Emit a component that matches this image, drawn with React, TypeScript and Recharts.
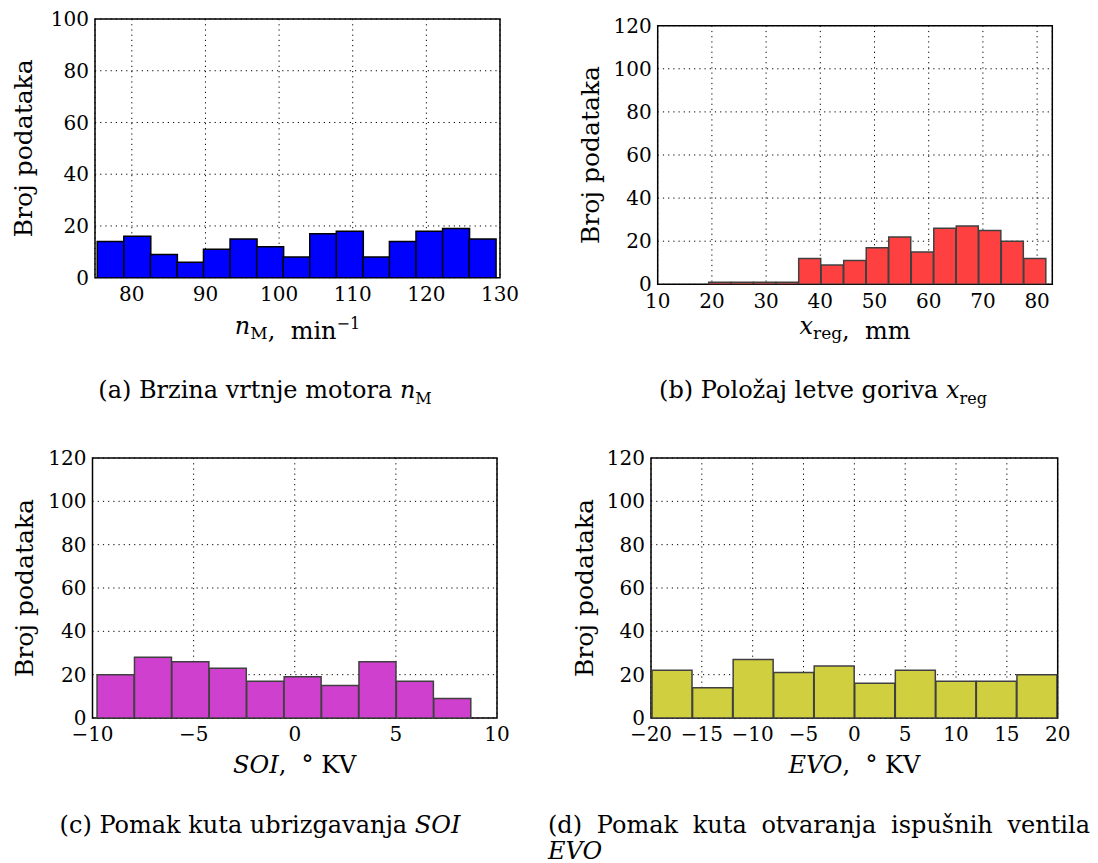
import React from 'react'
import { BarChart, Bar, XAxis, YAxis, CartesianGrid, ReferenceArea, Label } from 'recharts'

const SERIF = 'DejaVu Serif, Liberation Serif, serif'

// (a) engine speed
const speedBins = [77.1, 80.71, 84.32, 87.93, 91.53, 95.14, 98.75, 102.35, 105.96, 109.57, 113.18, 116.78, 120.39, 124.0, 127.6]
const speedCounts = [14, 16, 9, 6, 11, 15, 12, 8, 17, 18, 8, 14, 18, 19, 15]
const speedTicks = [80, 90, 100, 110, 120, 130]

// (b) fuel rack position
const rackBins = [21.48, 25.63, 29.78, 33.94, 38.09, 42.24, 46.4, 50.55, 54.7, 58.86, 63.01, 67.16, 71.32, 75.47, 79.62]
const rackCounts = [1, 1, 1, 1, 12, 9, 11, 17, 22, 15, 26, 27, 25, 20, 12]
const rackTicks = [10, 20, 30, 40, 50, 60, 70, 80]

// (c) start of injection offset
const soiBins = [-8.85, -7.0, -5.15, -3.3, -1.45, 0.4, 2.25, 4.1, 5.95, 7.8]
const soiCounts = [20, 28, 26, 23, 17, 19, 15, 26, 17, 9]
const soiTicks = [-10, -5, 0, 5, 10]

// (d) exhaust valve opening offset
const evoBins = [-17.91, -13.92, -9.93, -5.94, -1.96, 2.03, 6.02, 10.01, 13.99, 17.98]
const evoCounts = [22, 14, 27, 21, 24, 16, 22, 17, 17, 20]
const evoTicks = [-20, -15, -10, -5, 0, 5, 10, 15, 20]

const countTicks100 = [0, 20, 40, 60, 80, 100]
const countTicks120 = [0, 20, 40, 60, 80, 100, 120]

const fmt = (v: number) => (v < 0 ? '\u2212' + Math.abs(v) : String(v))

type Rect = { x: number; y: number; w: number; h: number }
type Plot = { left: number; top: number; right: number; bottom: number }

function Histogram(props: {
  box: Rect
  plot: Plot
  bins: number[]
  counts: number[]
  xDomain: [number, number]
  xTicks: number[]
  yMax: number
  yTicks: number[]
  fill: string
  edge: string
  xLabel: React.ReactNode
  xLabelY: number
  yLabelX: number
}) {
  const { box, plot, bins, counts, xDomain, xTicks, yMax, yTicks, fill, edge, xLabel, xLabelY, yLabelX } = props
  const data = bins.map((x, i) => ({ x, count: counts[i] }))
  const margin = { top: plot.top - box.y, right: box.x + box.w - plot.right, left: 0, bottom: 0 }
  const cx = (plot.left + plot.right) / 2 - box.x
  const cy = (plot.top + plot.bottom) / 2 - box.y
  const ly = yLabelX - box.x

  return (
    <div style={{ position: 'absolute', left: box.x, top: box.y }}>
      <BarChart width={box.w} height={box.h} data={data} margin={margin} barCategoryGap={0} barGap={0}>
        <CartesianGrid stroke="#000" strokeWidth={1} strokeDasharray="1.2 4" />
        <XAxis
          type="number"
          dataKey="x"
          domain={xDomain}
          ticks={xTicks}
          allowDataOverflow
          interval={0}
          height={box.y + box.h - plot.bottom}
          axisLine={false}
          tickLine={false}
          tickSize={0}
          tickMargin={9}
          tickFormatter={fmt}
          tick={{ fill: '#000', fontSize: 20, fontFamily: SERIF }}
        >
          <Label
            content={() => (
              <text x={cx} y={xLabelY - box.y} textAnchor="middle" fontSize={24} fontFamily={SERIF} fill="#000">
                {xLabel}
              </text>
            )}
          />
        </XAxis>
        <YAxis
          type="number"
          domain={[0, yMax]}
          ticks={yTicks}
          allowDataOverflow
          interval={0}
          width={plot.left - box.x}
          axisLine={false}
          tickLine={false}
          tickSize={0}
          tickMargin={6}
          tick={{ fill: '#000', fontSize: 20, fontFamily: SERIF }}
        >
          <Label
            content={() => (
              <text
                x={ly}
                y={cy}
                transform={`rotate(-90, ${ly}, ${cy})`}
                textAnchor="middle"
                dominantBaseline="central"
                fontSize={25}
                fontFamily={SERIF}
                fill="#000"
              >
                Broj podataka
              </text>
            )}
          />
        </YAxis>
        <Bar dataKey="count" fill={fill} stroke={edge} strokeWidth={1.5} isAnimationActive={false} />
        <ReferenceArea x1={xDomain[0]} x2={xDomain[1]} y1={0} y2={yMax} fill="none" stroke="#000" strokeWidth={1.5} />
      </BarChart>
    </div>
  )
}

const sub = (t: string) => (
  <>
    <tspan fontSize={17} dy={5}>{t}</tspan>
    <tspan dy={-5}>{''}</tspan>
  </>
)

const captionStyle: React.CSSProperties = {
  position: 'absolute',
  fontFamily: SERIF,
  fontSize: 24,
  lineHeight: '26px',
  color: '#000',
  whiteSpace: 'nowrap',
}

function Caption({ cx, top, children }: { cx: number; top: number; children: React.ReactNode }) {
  return <div style={{ ...captionStyle, left: cx - 300, width: 600, top, textAlign: 'center' }}>{children}</div>
}

export default function App() {
  return (
    <div style={{ position: 'absolute', left: 0, top: 0, width: 1098, height: 863, background: '#fff' }}>
      <Histogram
        box={{ x: 0, y: 0, w: 540, h: 350 }}
        plot={{ left: 95, top: 19, right: 500, bottom: 277.7 }}
        bins={speedBins}
        counts={speedCounts}
        xDomain={[75, 130]}
        xTicks={speedTicks}
        yMax={100}
        yTicks={countTicks100}
        fill="#0000ff"
        edge="#000000"
        xLabelY={334}
        yLabelX={24}
        xLabel={
          <>
            <tspan fontStyle="italic">n</tspan>
            {sub('M')}
            <tspan>{',\u00a0\u00a0min'}</tspan>
            <tspan fontSize={16} dy={-10}>{'\u22121'}</tspan>
          </>
        }
      />
      <Histogram
        box={{ x: 560, y: 0, w: 538, h: 350 }}
        plot={{ left: 657.7, top: 25.7, right: 1052.3, bottom: 284.3 }}
        bins={rackBins}
        counts={rackCounts}
        xDomain={[10, 82.8]}
        xTicks={rackTicks}
        yMax={120}
        yTicks={countTicks120}
        fill="#ff4040"
        edge="#404040"
        xLabelY={334}
        yLabelX={590}
        xLabel={
          <>
            <tspan fontStyle="italic">x</tspan>
            {sub('reg')}
            <tspan>{',\u00a0\u00a0mm'}</tspan>
          </>
        }
      />
      <Histogram
        box={{ x: 0, y: 430, w: 540, h: 360 }}
        plot={{ left: 92.5, top: 458, right: 497, bottom: 718 }}
        bins={soiBins}
        counts={soiCounts}
        xDomain={[-10, 10]}
        xTicks={soiTicks}
        yMax={120}
        yTicks={countTicks120}
        fill="#cf40cf"
        edge="#404040"
        xLabelY={773}
        yLabelX={24}
        xLabel={
          <>
            <tspan fontStyle="italic">SOI</tspan>
            <tspan>{',\u00a0\u00a0\u00b0\u00a0KV'}</tspan>
          </>
        }
      />
      <Histogram
        box={{ x: 560, y: 430, w: 538, h: 360 }}
        plot={{ left: 651, top: 458, right: 1057.7, bottom: 718 }}
        bins={evoBins}
        counts={evoCounts}
        xDomain={[-20, 20]}
        xTicks={evoTicks}
        yMax={120}
        yTicks={countTicks120}
        fill="#cfcf40"
        edge="#404040"
        xLabelY={773}
        yLabelX={584}
        xLabel={
          <>
            <tspan fontStyle="italic">EVO</tspan>
            <tspan>{',\u00a0\u00a0\u00b0\u00a0KV'}</tspan>
          </>
        }
      />

      <Caption cx={265} top={377}>
        (a) Brzina vrtnje motora <i>n</i>
        <sub style={{ fontSize: 16 }}>M</sub>
      </Caption>
      <Caption cx={823} top={377}>
        (b) Položaj letve goriva <i>x</i>
        <sub style={{ fontSize: 16 }}>reg</sub>
      </Caption>
      <Caption cx={260} top={812}>
        (c) Pomak kuta ubrizgavanja <i>SOI</i>
      </Caption>
      <div style={{ ...captionStyle, left: 548, top: 812, width: 542, whiteSpace: 'normal' }}>
        <div style={{ textAlign: 'justify', textAlignLast: 'justify' }}>(d) Pomak kuta otvaranja ispušnih ventila</div>
        <div>
          <i>EVO</i>
        </div>
      </div>
    </div>
  )
}
